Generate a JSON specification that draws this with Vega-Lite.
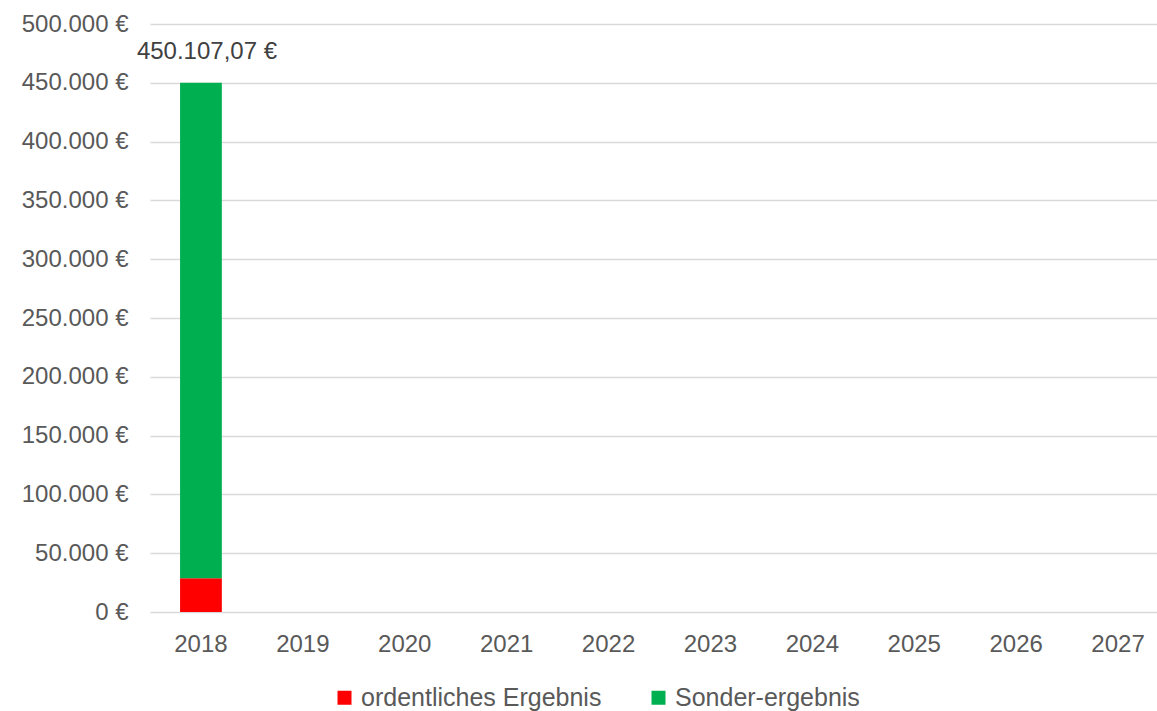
{
  "$schema": "https://vega.github.io/schema/vega-lite/v6.json",
  "autosize": {"type": "none"},
  "padding": {"left": 150, "top": 24, "right": 0, "bottom": 99},
  "width": 1007,
  "height": 588,
  "config": {
    "locale": {"number": {"decimal": ",", "thousands": ".", "grouping": [3], "currency": ["", " €"]}},
    "font": "Liberation Sans",
    "view": {"stroke": null}
  },
  "data": {
    "values": [
      {"Jahr": "2018", "Art": "ordentliches Ergebnis", "Wert": 28600, "Reihenfolge": 1},
      {"Jahr": "2018", "Art": "Sonder-ergebnis", "Wert": 421507.07, "Reihenfolge": 2}
    ]
  },
  "encoding": {
    "x": {
      "field": "Jahr", "type": "nominal",
      "scale": {"domain": ["2018","2019","2020","2021","2022","2023","2024","2025","2026","2027"], "range": [0, 1019], "paddingInner": 0.59, "paddingOuter": 0.295},
      "axis": {"title": null, "labelAngle": 0, "ticks": false, "domain": false, "labelPadding": 20, "labelFont": "Liberation Sans", "labelFontSize": 24, "labelColor": "#595959", "labelOverlap": false}
    }
  },
  "layer": [
    {
      "mark": {"type": "bar"},
      "encoding": {
        "y": {
          "field": "Wert", "type": "quantitative", "stack": "zero",
          "scale": {"domain": [0, 500000], "nice": false},
          "axis": {"title": null, "values": [0,50000,100000,150000,200000,250000,300000,350000,400000,450000,500000], "format": "$,d", "labelOverlap": false, "ticks": false, "domain": false, "labelPadding": 22, "gridColor": "#d9d9d9", "gridWidth": 1.5, "labelFont": "Liberation Sans", "labelFontSize": 24, "labelColor": "#595959"}
        },
        "color": {
          "field": "Art", "type": "nominal",
          "scale": {"domain": ["ordentliches Ergebnis", "Sonder-ergebnis"], "range": ["#ff0000", "#00b050"]},
          "legend": {"title": null, "orient": "none", "legendX": 182, "legendY": 661, "direction": "horizontal", "symbolType": "square", "symbolSize": 196, "symbolStrokeWidth": 0, "labelFontSize": 25, "labelColor": "#595959", "labelFont": "Liberation Sans", "labelLimit": 0, "columnPadding": 44, "labelOffset": 4}
        },
        "order": {"field": "Reihenfolge", "type": "quantitative"}
      }
    },
    {
      "transform": [{"aggregate": [{"op": "sum", "field": "Wert", "as": "Summe"}], "groupby": ["Jahr"]}],
      "mark": {"type": "text", "baseline": "alphabetic", "dy": -24, "dx": 6, "fontSize": 24, "color": "#404040", "font": "Liberation Sans"},
      "encoding": {
        "y": {"field": "Summe", "type": "quantitative"},
        "text": {"field": "Summe", "type": "quantitative", "format": "$,.2f"}
      }
    }
  ]
}
